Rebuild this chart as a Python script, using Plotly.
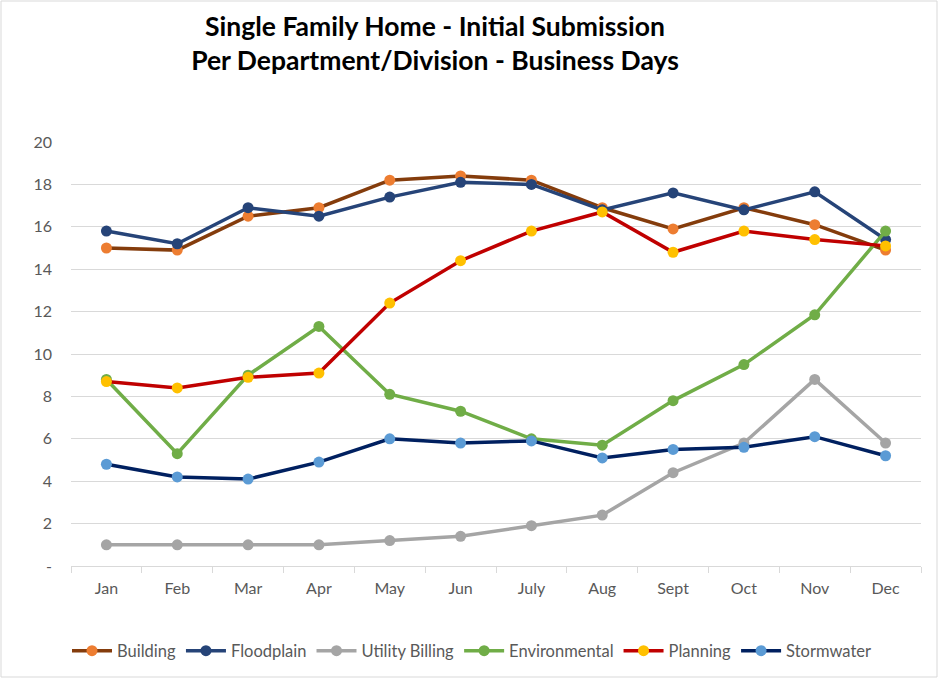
import plotly.graph_objects as go

months = ["Jan", "Feb", "Mar", "Apr", "May", "Jun", "July", "Aug", "Sept", "Oct", "Nov", "Dec"]

building = [15.0, 14.9, 16.5, 16.9, 18.2, 18.4, 18.2, 16.9, 15.9, 16.9, 16.1, 14.9]
floodplain = [15.8, 15.2, 16.9, 16.5, 17.4, 18.1, 18.0, 16.8, 17.6, 16.8, 17.65, 15.4]
utility_billing = [1.0, 1.0, 1.0, 1.0, 1.2, 1.4, 1.9, 2.4, 4.4, 5.8, 8.8, 5.8]
environmental = [8.8, 5.3, 9.0, 11.3, 8.1, 7.3, 6.0, 5.7, 7.8, 9.5, 11.85, 15.8]
planning = [8.7, 8.4, 8.9, 9.1, 12.4, 14.4, 15.8, 16.7, 14.8, 15.8, 15.4, 15.1]
stormwater = [4.8, 4.2, 4.1, 4.9, 6.0, 5.8, 5.9, 5.1, 5.5, 5.6, 6.1, 5.2]

y_ticks = [0, 2, 4, 6, 8, 10, 12, 14, 16, 18, 20]
y_tick_labels = ["-", "2", "4", "6", "8", "10", "12", "14", "16", "18", "20"]

series = [
    ("Building", building, "#843C0C", "#ED7D31"),
    ("Floodplain", floodplain, "#264478", "#264478"),
    ("Utility Billing", utility_billing, "#A5A5A5", "#A5A5A5"),
    ("Environmental", environmental, "#70AD47", "#70AD47"),
    ("Planning", planning, "#C00000", "#FFC000"),
    ("Stormwater", stormwater, "#002060", "#5B9BD5"),
]

fig = go.Figure()
for name, vals, lc, mc in series:
    fig.add_trace(go.Scatter(
        x=months, y=vals, name=name, mode="lines+markers",
        line=dict(color=lc, width=3.5),
        marker=dict(color=mc, size=11, line=dict(width=0)),
    ))

FONT = "Lato, Carlito, sans-serif"

fig.update_layout(
    width=943, height=679,
    paper_bgcolor="white", plot_bgcolor="white",
    margin=dict(l=71, r=22, t=142, b=113),
    font=dict(family=FONT, color="#595959", size=16),
    title=dict(
        text="Single Family Home - Initial Submission<br>Per Department/Division - Business Days",
        x=435 / 943, xanchor="center", y=1 - 36 / 679, yanchor="middle",
        font=dict(family=FONT, size=26.5, color="#000000", weight="bold"),
    ),
    showlegend=True,
    legend=dict(
        orientation="h", x=0.5, xref="container", xanchor="center",
        y=1 - 651 / 679, yref="container", yanchor="middle",
        font=dict(size=16.5, color="#595959"),
        itemwidth=40, tracegroupgap=0,
    ),
    xaxis=dict(
        type="category", range=[-0.5, 11.5],
        showgrid=False, showline=True, linecolor="#D9D9D9", linewidth=1,
        ticks="outside", tickson="boundaries", ticklen=6, tickcolor="#D9D9D9",
        ticklabelstandoff=8,
        tickfont=dict(size=16, color="#595959"),
        fixedrange=True,
    ),
    yaxis=dict(
        range=[0, 20], tickvals=y_ticks, ticktext=y_tick_labels,
        showgrid=True, gridcolor="#D9D9D9", gridwidth=1,
        zeroline=False, showline=False,
        ticks="", ticklabelstandoff=18,
        tickfont=dict(size=16, color="#595959"),
        fixedrange=True,
    ),
    shapes=[dict(
        type="rect", xref="paper", yref="paper",
        x0=-70 / 850, x1=(937 - 71) / 850,
        y0=-(677 - 566) / 424, y1=(566 - 1) / 424,
        line=dict(color="#D9D9D9", width=1), fillcolor="rgba(0,0,0,0)", layer="below",
    )],
)

fig.write_html("out.html", config={"displayModeBar": False},
               post_script="document.body.style.margin='0';")
